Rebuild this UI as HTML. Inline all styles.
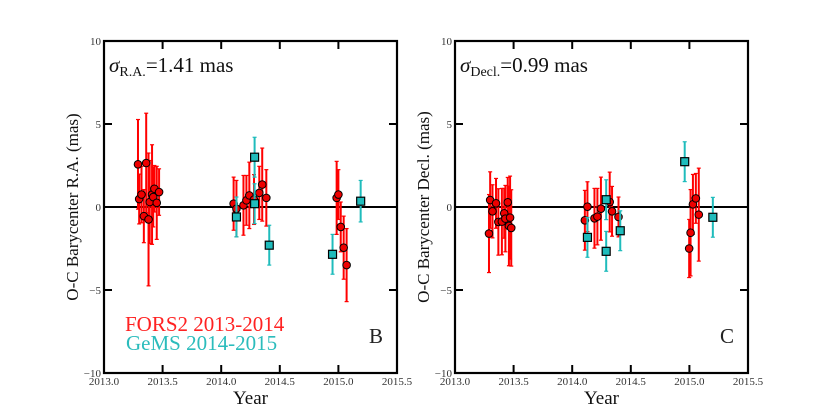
<!DOCTYPE html>
<html><head><meta charset="utf-8"><style>
body{margin:0;background:#fff;width:830px;height:415px;overflow:hidden}
svg text{font-family:"Liberation Serif",serif}
</style></head><body>
<svg id="c" width="830" height="415" viewBox="0 0 830 415"></svg>
<script>
// Panel B (R.A.)
const raRedYear=[2013.29,2013.30,2013.32,2013.34,2013.36,2013.38,2013.39,2013.41,2013.42,2013.43,2013.45,2013.47,2014.106,2014.13,2014.19,2014.215,2014.24,2014.28,2014.325,2014.35,2014.385,2014.985,2015.0,2015.02,2015.045,2015.07];
const raRedVal=[2.57,0.48,0.75,-0.55,2.65,-0.75,0.3,0.75,0.6,1.1,0.25,0.9,0.2,-0.1,0.1,0.4,0.7,0.45,0.85,1.35,0.55,0.55,0.75,-1.2,-2.45,-3.5];
const raRedErr=[2.7,1.5,1.7,1.6,3.0,4.0,2.5,3.0,1.8,1.4,2.2,1.4,1.6,1.7,1.8,1.5,2.0,1.5,1.6,2.2,1.7,2.2,1.5,1.5,1.9,2.2];
const raCyanYear=[2014.13,2014.285,2014.285,2014.41,2014.95,2015.19];
const raCyanVal=[-0.6,3.0,0.2,-2.3,-2.85,0.35];
const raCyanErr=[1.2,1.2,1.2,1.2,1.2,1.25];
// Panel C (Decl.)
const deRedYear=[2013.29,2013.30,2013.32,2013.35,2013.37,2013.40,2013.42,2013.43,2013.45,2013.47,2013.46,2013.48,2014.108,2014.13,2014.19,2014.215,2014.245,2014.32,2014.34,2014.395,2014.998,2015.01,2015.03,2015.055,2015.08];
const deRedVal=[-1.6,0.42,-0.26,0.22,-0.9,-0.88,-0.38,-0.7,0.28,-0.64,-1.14,-1.26,-0.8,0.02,-0.68,-0.58,-0.1,0.3,-0.26,-0.6,-2.5,-1.55,0.16,0.52,-0.46];
const deRedErr=[2.35,1.7,1.6,1.5,2.0,2.0,1.5,2.0,1.5,2.5,2.4,2.3,1.8,1.5,1.8,1.7,1.9,1.8,1.5,1.2,1.75,2.6,1.8,1.5,2.8];
const deCyanYear=[2014.13,2014.29,2014.29,2014.41,2014.96,2015.2];
const deCyanVal=[-1.83,0.44,-2.67,-1.43,2.73,-0.62];
const deCyanErr=[1.2,1.2,1.2,1.2,1.2,1.2];
const xTicks=[2013.0,2013.5,2014.0,2014.5,2015.0,2015.5];
const xTickLabels=["2013.0","2013.5","2014.0","2014.5","2015.0","2015.5"];
const yTicks=[-10,-5,0,5,10];
const yTickLabels=["\u221210","\u22125","0","5","10"];

const NS="http://www.w3.org/2000/svg";
const svg=document.getElementById('c');
function mk(tag,attrs,parent,text){const e=document.createElementNS(NS,tag);for(const k in attrs)e.setAttribute(k,attrs[k]);if(text!==undefined)e.textContent=text;(parent||svg).appendChild(e);return e;}
const T=41,B=373;
function panel(L,R,redY,redV,redE,cyY,cyV,cyE,name,sigSub,sigVal,ylabel,letter,legend){
  const g=mk('g',{});
  
  
  const sx=v=>L+(v-2013)/2.5*(R-L);
  const sy=v=>T+(10-v)/20*(B-T);
  // zero line
  const zl=mk('line',{x1:L,x2:R,y1:sy(0),y2:sy(0),stroke:'#000','stroke-width':2},g);
  
  
  // error bars and points
  function series(Y,V,E,color,sq,sname){
    const sg=mk('g',{},g);
    
    
    for(let i=0;i<Y.length;i++){
      const x=sx(Y[i]),y1=sy(V[i]+E[i]),y2=sy(V[i]-E[i]);
      const eb=mk('g',{},sg);
      
      
      mk('line',{x1:x,x2:x,y1:y1,y2:y2,stroke:color,'stroke-width':2},eb);
      mk('line',{x1:x-2,x2:x+2,y1:y1,y2:y1,stroke:color,'stroke-width':1.2},eb);
      mk('line',{x1:x-2,x2:x+2,y1:y2,y2:y2,stroke:color,'stroke-width':1.2},eb);
    }
    for(let i=0;i<Y.length;i++){
      const x=sx(Y[i]),y=sy(V[i]);
      let p;
      if(sq)p=mk('rect',{x:x-4,y:y-4,width:8,height:8,fill:'#1fbcbc',stroke:'#000','stroke-width':1.2},sg);
      else p=mk('circle',{cx:x,cy:y,r:3.8,fill:'#e00',stroke:'#000','stroke-width':1},sg);
      
      
    }
  }
  series(redY,redV,redE,'#f00',false,'fors2-series');
  series(cyY,cyV,cyE,'#1fbcbc',true,'gems-series');
  // frame
  const fr=mk('rect',{x:L,y:T,width:R-L,height:B-T,fill:'none',stroke:'#000','stroke-width':2.2},g);
  
  
  // ticks
  xTicks.forEach((t,i)=>{
    const x=sx(t);
    if(i>0&&i<xTicks.length-1){mk('line',{x1:x,x2:x,y1:B,y2:B-8,stroke:'#000','stroke-width':2},g);mk('line',{x1:x,x2:x,y1:T,y2:T+8,stroke:'#000','stroke-width':2},g);}
    const tl=mk('text',{x:x,y:B+12,'text-anchor':'middle','font-size':11,fill:'#333'},g,xTickLabels[i]);
    
    
  });
  yTicks.forEach((t,i)=>{
    const y=sy(t);
    if(i>0&&i<yTicks.length-1){mk('line',{x1:L,x2:L+8,y1:y,y2:y,stroke:'#000','stroke-width':2},g);mk('line',{x1:R,x2:R-8,y1:y,y2:y,stroke:'#000','stroke-width':2},g);}
    const tl=mk('text',{x:L-3,y:y+4,'text-anchor':'end','font-size':11,fill:'#333'},g,yTickLabels[i]);
    
    
  });
  const xt=mk('text',{x:(L+R)/2,y:404,'text-anchor':'middle','font-size':19,fill:'#111'},g,'Year');
  
  
  const yt=mk('text',{x:0,y:0,'text-anchor':'middle','font-size':17,fill:'#111',transform:`translate(${L-26},${(T+B)/2}) rotate(-90)`},g,ylabel);
  
  
  const st=mk('text',{x:L+5,y:72,'font-size':21,fill:'#111'},g);
  
  
  mk('tspan',{'font-style':'italic'},st,'\u03c3');
  mk('tspan',{'font-size':14,dy:4},st,sigSub);
  mk('tspan',{dy:-4},st,'='+sigVal+' mas');
  const lt=mk('text',{x:R-14,y:343,'text-anchor':'end','font-size':21,fill:'#222'},g,letter);
  
  
  if(legend){
    const l1=mk('text',{x:125,y:331,'font-size':21,fill:'#f22'},g,'FORS2 2013-2014');
    
    
    const l2=mk('text',{x:126,y:350,'font-size':21,fill:'#2bbcbc'},g,'GeMS 2014-2015');
    
    
  }
}
panel(104,397,raRedYear,raRedVal,raRedErr,raCyanYear,raCyanVal,raCyanErr,'panel-b-ra','R.A.','1.41','O-C Barycenter R.A. (mas)','B',true);
panel(455,748,deRedYear,deRedVal,deRedErr,deCyanYear,deCyanVal,deCyanErr,'panel-c-decl','Decl.','0.99','O-C Barycenter Decl. (mas)','C',false);
</script>
</body></html>
